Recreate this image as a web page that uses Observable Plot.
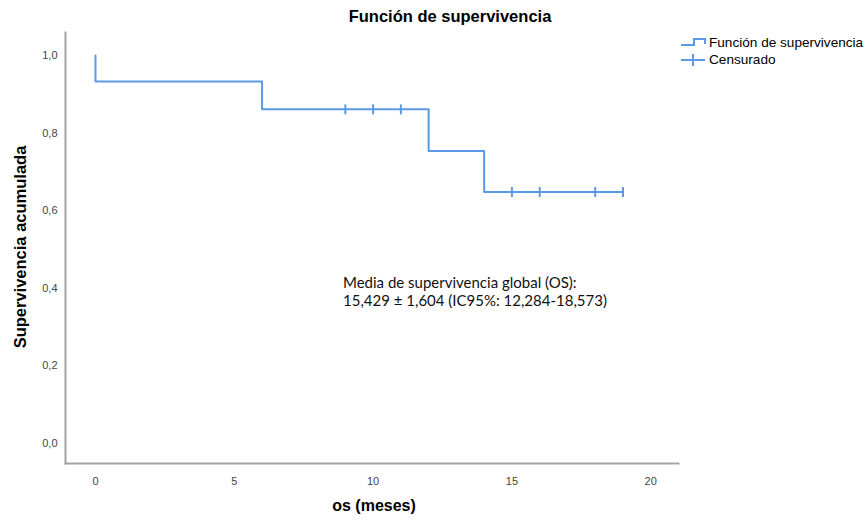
<!DOCTYPE html>
<html>
<head>
<meta charset="utf-8">
<script src="https://cdn.jsdelivr.net/npm/d3@7"></script>
<script src="https://cdn.jsdelivr.net/npm/@observablehq/plot@0.6"></script>
<style>
  body { margin: 0; background: #fff; }
  #wrap { position: relative; width: 868px; height: 522px; font-family: "Liberation Sans", Arial, sans-serif; }
  .abs { position: absolute; white-space: nowrap; color: #000; }
  #title { left: 0; width: 900px; text-align: center; top: 7px; font-size: 16.5px; font-weight: bold; }
  #xlab { left: 374px; transform: translateX(-50%); top: 497px; font-size: 16px; font-weight: bold; }
  #ylab { left: 20px; top: 247px; transform: translate(-50%, -50%) rotate(-90deg); font-size: 16.5px; font-weight: bold; }
  #note { left: 343px; top: 273px; font-family: Lato, "Open Sans", sans-serif; font-size: 15px; line-height: 18px; color: #111; }
  #legend { left: 680px; top: 34px; font-size: 13.6px; line-height: 17px; }
  #legend div { display: flex; align-items: center; }
  #legend svg { margin-right: 2px; }
</style>
</head>
<body>
<div id="wrap">
  <div id="chart"></div>
  <div class="abs" id="title">Función de supervivencia</div>
  <div class="abs" id="xlab">os (meses)</div>
  <div class="abs" id="ylab">Supervivencia acumulada</div>
  <div class="abs" id="note">Media de supervivencia global (OS):<br>15,429 ± 1,604 (IC95%: 12,284-18,573)</div>
  <div class="abs" id="legend">
    <div><svg width="27" height="14"><path d="M1,9 H14 V3 H25 V8" fill="none" stroke="#5a9ae6" stroke-width="2"/></svg>Función de supervivencia</div>
    <div><svg width="27" height="14"><path d="M1,7 H25 M13,1 V13" fill="none" stroke="#5a9ae6" stroke-width="2"/></svg>Censurado</div>
  </div>
</div>
<script>
// Survival step function (time in months, cumulative survival)
const stepTimes = [0, 0, 6, 12, 14, 19];
const stepSurv  = [1.0, 0.933, 0.861, 0.754, 0.648, 0.648];
// Censored observations
const censTimes = [9, 10, 11, 15, 16, 18, 19];
const censSurv  = [0.861, 0.861, 0.861, 0.648, 0.648, 0.648, 0.648];
const xTicks = [0, 5, 10, 15, 20];
const yTicks = [0, 0.2, 0.4, 0.6, 0.8, 1.0];

const stepData = stepTimes.map((t, i) => ({t, s: stepSurv[i]}));
const censData = censTimes.map((t, i) => ({t, s: censSurv[i]}));

const vbar = { draw(ctx, size) { const h = 5; ctx.moveTo(0, -h); ctx.lineTo(0, h); } };
const blue = "#5a9ae6";

const chart = Plot.plot({
  width: 868,
  height: 522,
  marginLeft: 65,
  marginRight: 190,
  marginTop: 32,
  marginBottom: 59,
  style: { fontFamily: "'Liberation Sans', Arial, sans-serif", fontSize: "11px", color: "#444", background: "#fff" },
  x: { domain: [-1.08, 21.0], ticks: xTicks, tickSize: 0, tickPadding: 14, label: null },
  y: { domain: [-0.0515, 1.059], ticks: yTicks, tickSize: 0, tickPadding: 8, label: null,
       tickFormat: d => d.toFixed(1).replace(".", ",") },
  marks: [
    Plot.frame({ anchor: "left", stroke: "#a3a3a3", strokeWidth: 2, strokeOpacity: 1 }),
    Plot.frame({ anchor: "bottom", stroke: "#a3a3a3", strokeWidth: 2, strokeOpacity: 1 }),
    Plot.line(stepData, { x: "t", y: "s", curve: "step-after", stroke: blue, strokeWidth: 2 }),
    Plot.dot(censData, { x: "t", y: "s", symbol: vbar, r: 5, stroke: blue, strokeWidth: 2, fill: "none" })
  ]
});
document.getElementById("chart").appendChild(chart);
</script>
</body>
</html>
